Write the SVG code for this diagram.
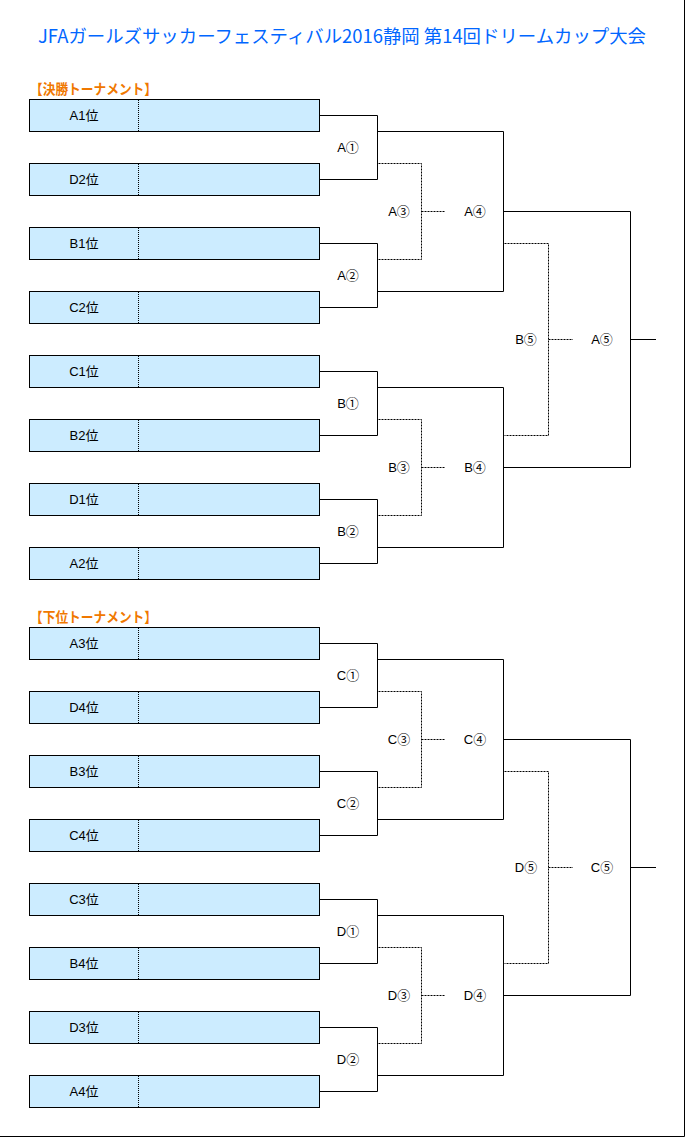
<svg xmlns="http://www.w3.org/2000/svg" width="685" height="1137" viewBox="0 0 685 1137">
<style>
.bg{fill:#ffffff}
.box{fill:#CCECFF;stroke:#000;stroke-width:1}
.div{stroke:#000;stroke-width:1;stroke-dasharray:1 1;fill:none}
.lbl{font-family:"Liberation Sans","Noto Sans CJK JP",sans-serif;font-size:13px;fill:#000;text-anchor:middle}
.rl{font-family:"Liberation Sans","Noto Sans CJK JP",sans-serif;font-size:13px;fill:#000;text-anchor:middle}
.solid{stroke:#000;stroke-width:1;fill:none}
.dot{stroke:#000;stroke-width:1;fill:none;stroke-dasharray:2 1}
.title{font-family:"Noto Sans CJK JP","Liberation Sans",sans-serif;font-size:18px;fill:#0066FF}
.hdr{font-family:"Noto Sans CJK JP",sans-serif;font-size:14px;font-weight:bold;fill:#F07800}
</style>
<rect class="bg" x="0" y="0" width="685" height="1137"/>
<g id="frame"><path d="M684.5,0 V1136.5 H0" class="solid" stroke-width="1.5"/></g>
<g id="title"><text class="title" x="38" y="43" textLength="608" lengthAdjust="spacingAndGlyphs">JFAガールズサッカーフェスティバル2016静岡 第14回ドリームカップ大会</text></g>
<g id="hdr-final"><text class="hdr" x="30" y="94" textLength="127" lengthAdjust="spacingAndGlyphs">【決勝トーナメント】</text></g>
<g id="hdr-lower"><text class="hdr" x="30" y="622" textLength="127" lengthAdjust="spacingAndGlyphs">【下位トーナメント】</text></g>

<g id="connectors">
<!-- upper tournament -->
<path class="solid" d="M319.5,115.5 H377.5 V179.5 H319.5 M319.5,243.5 H377.5 V307.5 H319.5 M319.5,371.5 H377.5 V435.5 H319.5 M319.5,499.5 H377.5 V563.5 H319.5"/>
<path class="solid" d="M377.5,131.5 H503.5 V291.5 H377.5 M377.5,387.5 H503.5 V547.5 H377.5"/>
<path class="solid" d="M503.5,211.5 H630.5 V467.5 H503.5 M630.5,339.5 H656"/>
<path class="dot" d="M378.5,163.5 H421.5 V259.5 H378.5 M421.5,211.5 H445"/>
<path class="dot" d="M378.5,419.5 H421.5 V515.5 H378.5 M421.5,467.5 H445"/>
<path class="dot" d="M504.5,243.5 H548.5 V435.5 H504.5 M548.5,339.5 H573"/>
<!-- lower tournament -->
<g transform="translate(0,528)">
<path class="solid" d="M319.5,115.5 H377.5 V179.5 H319.5 M319.5,243.5 H377.5 V307.5 H319.5 M319.5,371.5 H377.5 V435.5 H319.5 M319.5,499.5 H377.5 V563.5 H319.5"/>
<path class="solid" d="M377.5,131.5 H503.5 V291.5 H377.5 M377.5,387.5 H503.5 V547.5 H377.5"/>
<path class="solid" d="M503.5,211.5 H630.5 V467.5 H503.5 M630.5,339.5 H656"/>
<path class="dot" d="M378.5,163.5 H421.5 V259.5 H378.5 M421.5,211.5 H445"/>
<path class="dot" d="M378.5,419.5 H421.5 V515.5 H378.5 M421.5,467.5 H445"/>
<path class="dot" d="M504.5,243.5 H548.5 V435.5 H504.5 M548.5,339.5 H573"/>
</g>
</g>

<g id="box-A1"><rect class="box" x="29.5" y="99.5" width="290" height="32"/><path class="div" d="M138.5,100 V131"/><text class="lbl" x="84" y="120">A1位</text></g>
<g id="box-D2"><rect class="box" x="29.5" y="163.5" width="290" height="32"/><path class="div" d="M138.5,164 V195"/><text class="lbl" x="84" y="184">D2位</text></g>
<g id="box-B1"><rect class="box" x="29.5" y="227.5" width="290" height="32"/><path class="div" d="M138.5,228 V259"/><text class="lbl" x="84" y="248">B1位</text></g>
<g id="box-C2"><rect class="box" x="29.5" y="291.5" width="290" height="32"/><path class="div" d="M138.5,292 V323"/><text class="lbl" x="84" y="312">C2位</text></g>
<g id="box-C1"><rect class="box" x="29.5" y="355.5" width="290" height="32"/><path class="div" d="M138.5,356 V387"/><text class="lbl" x="84" y="376">C1位</text></g>
<g id="box-B2"><rect class="box" x="29.5" y="419.5" width="290" height="32"/><path class="div" d="M138.5,420 V451"/><text class="lbl" x="84" y="440">B2位</text></g>
<g id="box-D1"><rect class="box" x="29.5" y="483.5" width="290" height="32"/><path class="div" d="M138.5,484 V515"/><text class="lbl" x="84" y="504">D1位</text></g>
<g id="box-A2"><rect class="box" x="29.5" y="547.5" width="290" height="32"/><path class="div" d="M138.5,548 V579"/><text class="lbl" x="84" y="568">A2位</text></g>

<g id="box-A3"><rect class="box" x="29.5" y="627.5" width="290" height="32"/><path class="div" d="M138.5,628 V659"/><text class="lbl" x="84" y="648">A3位</text></g>
<g id="box-D4"><rect class="box" x="29.5" y="691.5" width="290" height="32"/><path class="div" d="M138.5,692 V723"/><text class="lbl" x="84" y="712">D4位</text></g>
<g id="box-B3"><rect class="box" x="29.5" y="755.5" width="290" height="32"/><path class="div" d="M138.5,756 V787"/><text class="lbl" x="84" y="776">B3位</text></g>
<g id="box-C4"><rect class="box" x="29.5" y="819.5" width="290" height="32"/><path class="div" d="M138.5,820 V851"/><text class="lbl" x="84" y="840">C4位</text></g>
<g id="box-C3"><rect class="box" x="29.5" y="883.5" width="290" height="32"/><path class="div" d="M138.5,884 V915"/><text class="lbl" x="84" y="904">C3位</text></g>
<g id="box-B4"><rect class="box" x="29.5" y="947.5" width="290" height="32"/><path class="div" d="M138.5,948 V979"/><text class="lbl" x="84" y="968">B4位</text></g>
<g id="box-D3"><rect class="box" x="29.5" y="1011.5" width="290" height="32"/><path class="div" d="M138.5,1012 V1043"/><text class="lbl" x="84" y="1032">D3位</text></g>
<g id="box-A4"><rect class="box" x="29.5" y="1075.5" width="290" height="32"/><path class="div" d="M138.5,1076 V1107"/><text class="lbl" x="84" y="1096">A4位</text></g>

<g id="m-A1"><text class="rl" x="348" y="152">A①</text></g>
<g id="m-A2"><text class="rl" x="348" y="280">A②</text></g>
<g id="m-A3"><text class="rl" x="399" y="216">A③</text></g>
<g id="m-A4"><text class="rl" x="475" y="216">A④</text></g>
<g id="m-B1"><text class="rl" x="348" y="408">B①</text></g>
<g id="m-B2"><text class="rl" x="348" y="536">B②</text></g>
<g id="m-B3"><text class="rl" x="399" y="472">B③</text></g>
<g id="m-B4"><text class="rl" x="475" y="472">B④</text></g>
<g id="m-B5"><text class="rl" x="526" y="344">B⑤</text></g>
<g id="m-A5"><text class="rl" x="602" y="344">A⑤</text></g>

<g id="m-C1"><text class="rl" x="348" y="680">C①</text></g>
<g id="m-C2"><text class="rl" x="348" y="808">C②</text></g>
<g id="m-C3"><text class="rl" x="399" y="744">C③</text></g>
<g id="m-C4"><text class="rl" x="475" y="744">C④</text></g>
<g id="m-D1"><text class="rl" x="348" y="936">D①</text></g>
<g id="m-D2"><text class="rl" x="348" y="1064">D②</text></g>
<g id="m-D3"><text class="rl" x="399" y="1000">D③</text></g>
<g id="m-D4"><text class="rl" x="475" y="1000">D④</text></g>
<g id="m-D5"><text class="rl" x="526" y="872">D⑤</text></g>
<g id="m-C5"><text class="rl" x="602" y="872">C⑤</text></g>
</svg>
